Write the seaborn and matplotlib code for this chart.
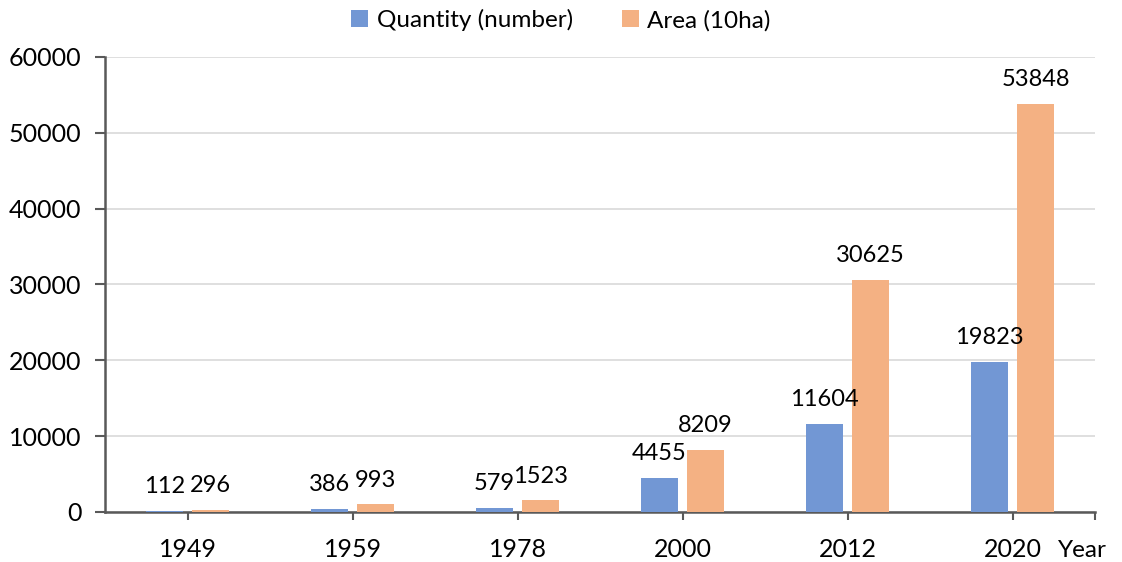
import matplotlib
matplotlib.use("Agg")
import matplotlib.pyplot as plt
import seaborn as sns
import pandas as pd

years = ["1949", "1959", "1978", "2000", "2012", "2020"]
quantity = [112, 386, 579, 4455, 11604, 19823]
area = [296, 993, 1523, 8209, 30625, 53848]
series_names = ["Quantity (number)", "Area (10ha)"]
y_ticks = [0, 10000, 20000, 30000, 40000, 50000, 60000]

df = pd.DataFrame({
    "Year": years * 2,
    "Value": quantity + area,
    "Series": [series_names[0]] * len(years) + [series_names[1]] * len(years),
})

sns.set_theme(style="white")
plt.rcParams["font.family"] = ["Lato", "DejaVu Sans"]

fig = plt.figure(figsize=(11.22, 5.62), dpi=100)
ax = fig.add_axes([0.0936, 0.089, 0.976 - 0.0936, 0.8986 - 0.089])

palette = {series_names[0]: "#7297D4", series_names[1]: "#F4B183"}
sns.barplot(data=df, x="Year", y="Value", hue="Series", palette=palette,
            width=0.56, gap=0.2, saturation=1, ax=ax, legend=True, zorder=3,
            linewidth=0, edgecolor="none")

for cont in ax.containers:
    ax.bar_label(cont, labels=[f"{int(v)}" for v in cont.datavalues],
                 padding=10, fontsize=17, color="#000000")

ax.set_xlim(-0.5, 5.5)
ax.set_ylim(0, 60000)
ax.set_yticks(y_ticks)
ax.set_yticklabels([str(t) for t in y_ticks], fontsize=18, color="#000000")
ax.tick_params(axis="x", labelsize=18, length=6, width=1.5, color="#595959",
               direction="out", bottom=True, pad=13, labelcolor="#000000")
ax.tick_params(axis="y", length=7, width=1.5, color="#595959",
               direction="out", left=True, pad=10, labelcolor="#000000")
ax.set_xticks([5.5], minor=True)
ax.tick_params(axis="x", which="minor", length=6, width=1.5, color="#595959",
               bottom=True)
ax.set_xlabel("")
ax.set_ylabel("")
ax.grid(axis="y", color="#D9D9D9", linewidth=1.2, zorder=0)
ax.set_axisbelow(True)
for side in ["top", "right"]:
    ax.spines[side].set_visible(False)
for side in ["left", "bottom"]:
    ax.spines[side].set_color("#595959")
    ax.spines[side].set_linewidth(1.8)

handles, labels = ax.get_legend_handles_labels()
ax.get_legend().remove()
fig.legend(handles, labels, loc="center", bbox_to_anchor=(0.5, 0.964),
           ncol=2, frameon=False, fontsize=17.5, handlelength=0.7,
           handleheight=0.7, handletextpad=0.35, columnspacing=2.0,
           labelcolor="#000000")

fig.text(0.965, 0.021, "Year", fontsize=17.5, ha="center", va="center",
         color="#000000")

fig.savefig("out.png", dpi=100)
